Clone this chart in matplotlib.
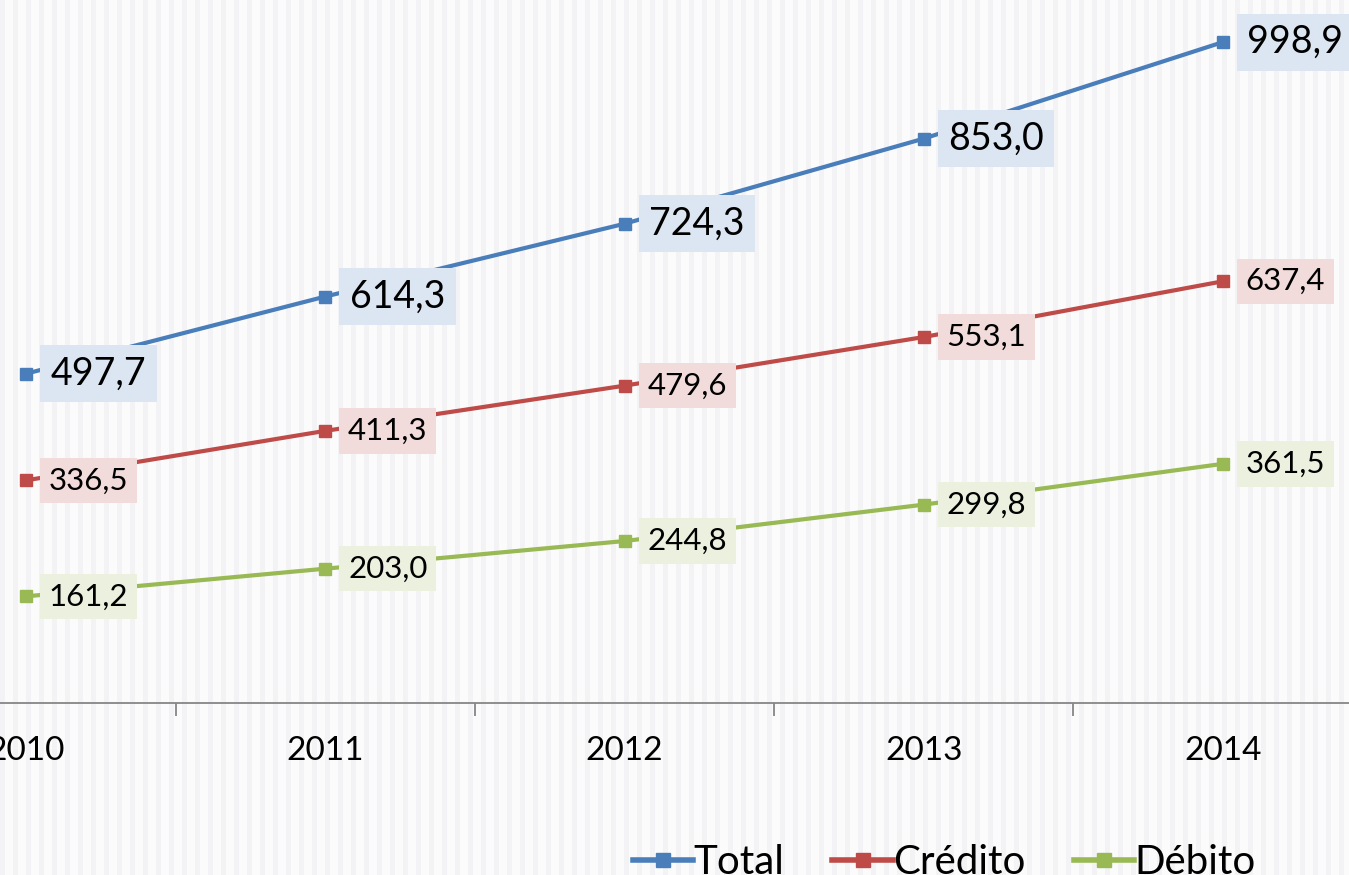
import matplotlib
matplotlib.use("Agg")
import matplotlib.pyplot as plt
from matplotlib.patches import Rectangle
from matplotlib.lines import Line2D

years = ["2010", "2011", "2012", "2013", "2014"]
total = [497.7, 614.3, 724.3, 853.0, 998.9]
credito = [336.5, 411.3, 479.6, 553.1, 637.4]
debito = [161.2, 203.0, 244.8, 299.8, 361.5]
series_names = ["Total", "Crédito", "Débito"]

plt.rcParams['font.family'] = ['Lato', 'DejaVu Sans']

W, H = 1349, 875
fig = plt.figure(figsize=(W / 100, H / 100), dpi=100)
fig.patch.set_facecolor('#fbfbfc')

# faint vertical stripe background
for i, x in enumerate(range(0, W, 13)):
    fig.patches.append(Rectangle((x / W, 0), 5 / W, 1, transform=fig.transFigure,
                                 facecolor='#f3f3f5', edgecolor='none', zorder=-10))

ax = fig.add_axes([-123.6 / W, 172 / H, 1496.2 / W, 703 / H])
ax.patch.set_alpha(0)
ax.set_xlim(-0.5, 4.5)
ax.set_ylim(0, 1062.5)

colors = ['#4a7ebb', '#be4b48', '#98b954']
boxcolors = ['#dce6f2', '#f2dcdb', '#ebf1de']
fsizes = [27, 22.5, 22.5]
pad = 0.28
xs = list(range(len(years)))

for vals, c, bc, fs in zip([total, credito, debito], colors, boxcolors, fsizes):
    ax.plot(xs, vals, color=c, lw=3, marker='s', markersize=8.5, zorder=3, clip_on=False)
    off = 14 + pad * fs * 100 / 72
    for x, v in zip(xs, vals):
        lbl = f"{v:.1f}".replace('.', ',')
        ax.annotate(lbl, (x, v), xytext=(off, 0), textcoords='offset pixels',
                    ha='left', va='center', fontsize=fs, color='black', zorder=4,
                    bbox=dict(boxstyle=f'square,pad={pad}', facecolor=bc, edgecolor='none'))

for s in ['top', 'left', 'right']:
    ax.spines[s].set_visible(False)
ax.spines['bottom'].set_color('#868686')
ax.spines['bottom'].set_linewidth(1.3)
ax.set_yticks([])
ax.set_xticks(xs)
ax.set_xticklabels(years, fontsize=24)
ax.tick_params(axis='x', which='major', length=0, pad=24)
ax.set_xticks([i + 0.5 for i in range(-1, 5)], minor=True)
ax.tick_params(axis='x', which='minor', length=9, width=1.3, color='#868686')

handles = [Line2D([0], [0], color=c, lw=4, marker='s', markersize=10) for c in colors]
fig.legend(handles, series_names, loc='center', bbox_to_anchor=(944 / W, 12 / H),
           ncol=3, frameon=False, fontsize=29, handlelength=1.5, handletextpad=0.0,
           columnspacing=1.2)

fig.savefig('out.png', dpi=100)
